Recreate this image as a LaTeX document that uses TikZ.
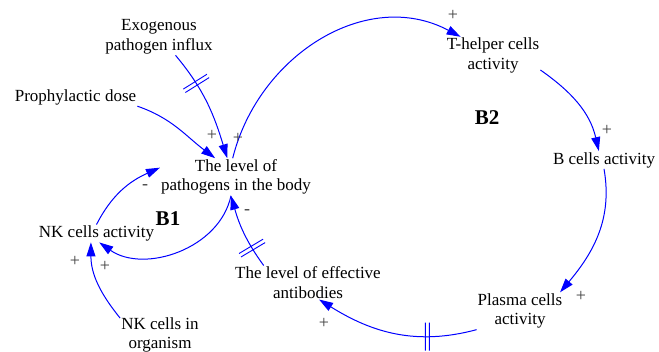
\documentclass[tikz,border=0pt]{standalone}
\usepackage{fontspec}
\setmainfont{Liberation Serif}
\usetikzlibrary{arrows.meta,decorations.markings}

\begin{document}
\begin{tikzpicture}[x=1pt, y=1pt,
  var/.style={align=center, inner sep=1pt, font=\fontsize{17}{19.5}\selectfont},
  loopname/.style={font=\fontsize{21}{21}\selectfont\bfseries},
  sign/.style={font=\fontsize{18}{18}\selectfont, text=black!75},
  link/.style={draw=blue, line width=1pt, -{Triangle[length=14pt,width=9pt]}},
  delaymark/.style={postaction={decorate, decoration={markings, mark=at position #1 with {\draw[blue, line width=0.9pt, -] (-2pt,-14pt) -- (-2pt,14pt) (2pt,-14pt) -- (2pt,14pt);}}}}]
\useasboundingbox (0,0) rectangle (659,352);

% Variables
\node[var] (exo) at (159,315) {Exogenous\\pathogen influx};
\node[var] (proph) at (75.5,254.5) {Prophylactic dose};
\node[var] (path) at (236,175) {The level of\\pathogens in the body};
\node[var] (thelp) at (493,296.5) {T-helper cells\\activity};
\node[var] (bcell) at (604,192) {B cells activity};
\node[var] (plasma) at (520,41) {Plasma cells\\activity};
\node[var] (anti) at (308,69.5) {The level of effective\\antibodies};
\node[var] (nkact) at (96.5,118.5) {NK cells activity};
\node[var] (nkorg) at (160,17) {NK cells in\\organism};

% Loops
\node[loopname] (b1) at (168,133) {B1};
\node[loopname] (b2) at (487,234) {B2};

% Links
\draw[link, delaymark=0.3] (exo.-48) to[out=-50, in=107] (path.115);
\draw[link] (proph.-8) to[out=-19, in=143] (path.138);
\draw[link] (path.100) to[out=76, in=152, looseness=1.05] (thelp.150);
\draw[link] (thelp.-17) to[out=-35, in=103] (bcell.120);
\draw[link] (bcell.south) to[out=-80, in=50] (plasma.25);
\draw[link, delaymark=0.3] (plasma.south west) to[out=195, in=-32] (anti.-57);
\draw[link, delaymark=0.27] (anti.159) to[out=126, in=-74] (path.255);
\draw[link] (path.255) to[out=258, in=-35] (nkact.-73);
\draw[link] (nkact.north) to[out=63, in=204] (path.173);
\draw[link] (nkorg.157) to[out=129, in=270] (nkact.238);

% Polarities
\node[sign] (p1) at (212,217) {+};
\node[sign] (p2) at (238,214) {+};
\node[sign] (p3) at (453,337) {+};
\node[sign] (p4) at (607,222) {+};
\node[sign] (p5) at (581,56) {+};
\node[sign] (p6) at (324,29) {+};
\node[sign] (p7) at (75,91) {+};
\node[sign] (p8) at (105,86) {+};
\node[sign] (m1) at (145,165) {-};
\node[sign] (m2) at (247,140) {-};
\end{tikzpicture}
\end{document}
